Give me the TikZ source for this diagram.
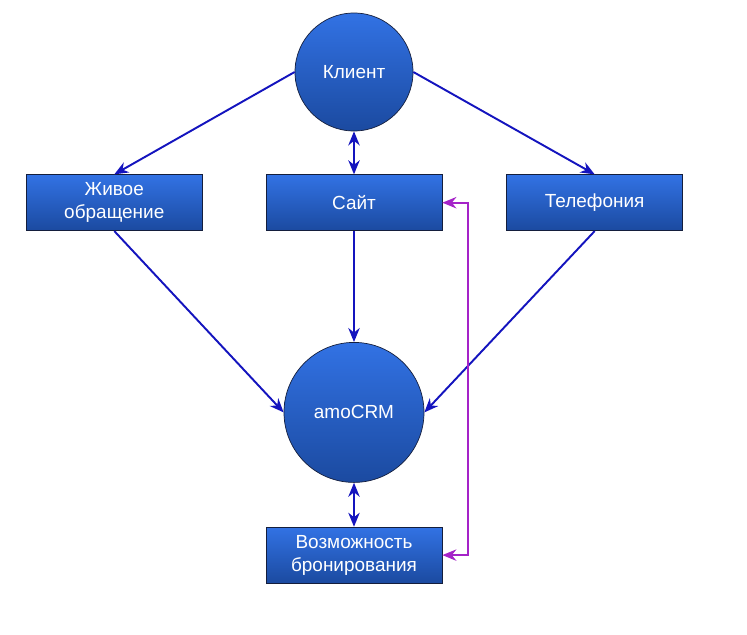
\documentclass[tikz,border=0pt]{standalone}
\usepackage{fontspec}
\setmainfont{Liberation Sans}
\usepackage{xcolor}
\usetikzlibrary{positioning, arrows.meta}
\definecolor{nodetop}{RGB}{50,114,228}
\definecolor{nodebot}{RGB}{27,74,160}
\definecolor{nodeedge}{RGB}{20,30,60}
\definecolor{flow}{RGB}{20,20,190}
\definecolor{backflow}{RGB}{165,35,200}

\begin{document}
\begin{tikzpicture}[
    font=\fontsize{10.8}{13.2}\selectfont,
    blok/.style={
        draw=nodeedge, align=center, text=white,
        top color=nodetop, bottom color=nodebot,
        minimum width=3.52cm, minimum height=1.12cm, inner sep=2pt
      },
    hub/.style={
        draw=nodeedge, circle, align=center, text=white,
        top color=nodetop, bottom color=nodebot, inner sep=0pt
      },
    link/.style={-{Stealth[length=8pt, width=6.5pt]}, line width=1.1pt, draw=flow},
    duplex/.style={link, {Stealth[length=8pt, width=6.5pt]}-{Stealth[length=8pt, width=6.5pt]}},
    backlink/.style={duplex, draw=backflow}
  ]
  \useasboundingbox (0,0) rectangle (14.94,-12.7);

  \node[hub, minimum size=2.36cm] (client) at (7.08,-1.44) {Клиент};
  \node[blok, below=0.86cm of client] (site) {Сайт};
  \node[blok, left=1.26cm of site] (live) {Живое\\обращение};
  \node[blok, right=1.28cm of site] (phone) {Телефония};
  \node[hub, minimum size=2.8cm, below=2.22cm of site] (crm) {amoCRM};
  \node[blok, below=0.88cm of crm] (book) {Возможность\\бронирования};

  \draw[link] (client.west) -- (live.north);
  \draw[link] (client.east) -- (phone.north);
  \draw[duplex] (client.south) -- (site.north);

  \draw[link] (live.south) -- (crm.west);
  \draw[link] (site.south) -- (crm.north);
  \draw[link] (phone.south) -- (crm.east);
  \draw[duplex] (crm.south) -- (book.north);

  \draw[backlink] (site.east) -- ++(0.52,0) |- (book.east);

\end{tikzpicture}
\end{document}
